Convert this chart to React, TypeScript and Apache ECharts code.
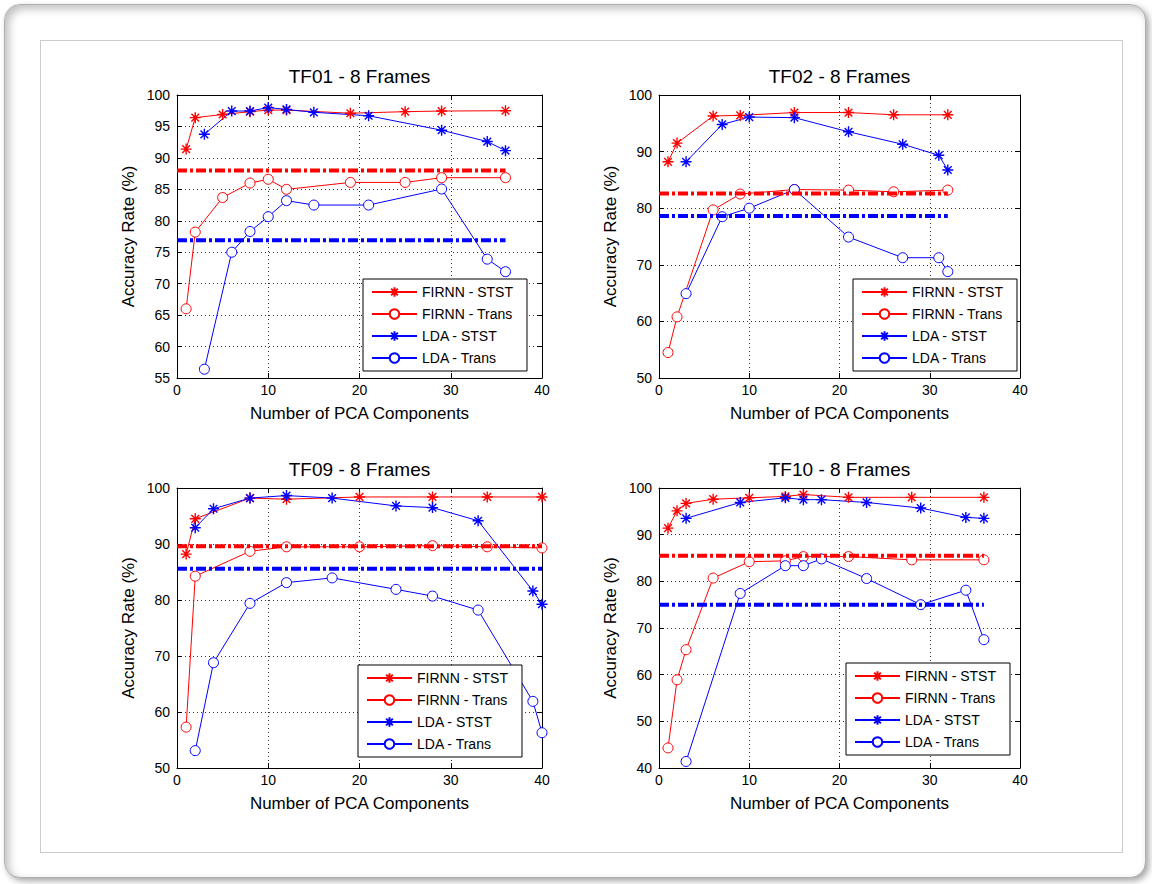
import React, { useEffect, useRef } from "react";
import * as echarts from "echarts";

// ---------- data ----------
const TITLES = ["TF01 - 8 Frames", "TF02 - 8 Frames", "TF09 - 8 Frames", "TF10 - 8 Frames"];
const SERIES_NAMES = ["FIRNN - STST", "FIRNN - Trans", "LDA - STST", "LDA - Trans"];
const X_NAME = "Number of PCA Components";
const Y_NAME = "Accuracy Rate (%)";

// TF01
const TF01_FIRNN_X = [1, 2, 5, 8, 10, 12, 19, 25, 29, 36];
const TF01_FIRNN_STST = [91.4, 96.4, 96.9, 97.35, 97.6, 97.6, 97.1, 97.35, 97.45, 97.5];
const TF01_FIRNN_TRANS = [66.0, 78.2, 83.7, 86.0, 86.6, 85.0, 86.1, 86.1, 86.85, 86.85];
const TF01_LDA_X = [3, 6, 8, 10, 12, 15, 21, 29, 34, 36];
const TF01_LDA_STST = [93.75, 97.45, 97.45, 98.0, 97.7, 97.25, 96.7, 94.4, 92.6, 91.15];
const TF01_LDA_TRANS = [56.4, 75.0, 78.3, 80.65, 83.2, 82.5, 82.5, 85.05, 73.9, 71.9];
const TF01_AVG = [88.0, 76.9];
const TF01_AVG_END = 36;

// TF02
const TF02_FIRNN_X = [1, 2, 6, 9, 15, 21, 26, 32];
const TF02_FIRNN_STST = [88.2, 91.5, 96.3, 96.4, 96.9, 96.9, 96.5, 96.5];
const TF02_FIRNN_TRANS = [54.5, 60.8, 79.7, 82.5, 83.3, 83.2, 82.9, 83.2];
const TF02_LDA_X = [3, 7, 10, 15, 21, 27, 31, 32];
const TF02_LDA_STST = [88.2, 94.8, 96.1, 96.0, 93.5, 91.3, 89.35, 86.75];
const TF02_LDA_TRANS = [64.9, 78.5, 80.0, 83.3, 74.9, 71.25, 71.25, 68.8];
const TF02_AVG = [82.6, 78.6];
const TF02_AVG_END = 32;

// TF09
const TF09_FIRNN_X = [1, 2, 8, 12, 20, 28, 34, 40];
const TF09_FIRNN_STST = [88.2, 94.5, 98.2, 98.0, 98.4, 98.4, 98.4, 98.4];
const TF09_FIRNN_TRANS = [57.3, 84.25, 88.7, 89.5, 89.5, 89.7, 89.5, 89.3];
const TF09_LDA_X = [2, 4, 8, 12, 17, 24, 28, 33, 39, 40];
const TF09_LDA_STST = [92.9, 96.3, 98.2, 98.65, 98.2, 96.8, 96.5, 94.15, 81.6, 79.25];
const TF09_LDA_TRANS = [53.1, 68.8, 79.4, 83.1, 83.95, 81.9, 80.7, 78.2, 61.9, 56.3];
const TF09_AVG = [89.6, 85.6];
const TF09_AVG_END = 40;

// TF10
const TF10_FIRNN_X = [1, 2, 3, 6, 10, 14, 16, 21, 28, 36];
const TF10_FIRNN_STST = [91.4, 95.1, 96.7, 97.6, 97.9, 98.2, 98.6, 98.0, 98.0, 98.0];
const TF10_FIRNN_TRANS = [44.3, 58.9, 65.35, 80.7, 84.2, 84.4, 85.3, 85.3, 84.6, 84.6];
const TF10_LDA_X = [3, 9, 14, 16, 18, 23, 29, 34, 36];
const TF10_LDA_STST = [93.5, 96.9, 97.9, 97.5, 97.5, 96.9, 95.7, 93.7, 93.5];
const TF10_LDA_TRANS = [41.4, 77.4, 83.35, 83.35, 84.8, 80.6, 75.0, 78.1, 67.5];
const TF10_AVG = [85.5, 75.0];
const TF10_AVG_END = 36;

const X_MIN = 0;
const X_MAX = 40;
const X_STEP = 10;
const Y_RANGES = [
  [55, 100, 5],
  [50, 100, 10],
  [50, 100, 10],
  [40, 100, 10],
];

// ---------- layout / style ----------
const FONT = '"Liberation Sans", Arial, Helvetica, sans-serif';
const RED = "#ff0000";
const BLUE = "#0000ff";
const STAR = "path://M5,0L5,10M0,5L10,5M1.5,1.5L8.5,8.5M1.5,8.5L8.5,1.5";

const GRIDS = [
  { left: 177, top: 95, width: 365, height: 283 },
  { left: 659, top: 95, width: 361, height: 283 },
  { left: 177, top: 488, width: 365, height: 280 },
  { left: 659, top: 488, width: 361, height: 280 },
];
const LEGEND_POS = [
  { left: 363, top: 279 },
  { left: 853, top: 279 },
  { left: 358, top: 665 },
  { left: 846, top: 663 },
];

const PANELS = [
  { fx: TF01_FIRNN_X, fs: TF01_FIRNN_STST, ft: TF01_FIRNN_TRANS, lx: TF01_LDA_X, ls: TF01_LDA_STST, lt: TF01_LDA_TRANS, avg: TF01_AVG, avgEnd: TF01_AVG_END },
  { fx: TF02_FIRNN_X, fs: TF02_FIRNN_STST, ft: TF02_FIRNN_TRANS, lx: TF02_LDA_X, ls: TF02_LDA_STST, lt: TF02_LDA_TRANS, avg: TF02_AVG, avgEnd: TF02_AVG_END },
  { fx: TF09_FIRNN_X, fs: TF09_FIRNN_STST, ft: TF09_FIRNN_TRANS, lx: TF09_LDA_X, ls: TF09_LDA_STST, lt: TF09_LDA_TRANS, avg: TF09_AVG, avgEnd: TF09_AVG_END },
  { fx: TF10_FIRNN_X, fs: TF10_FIRNN_STST, ft: TF10_FIRNN_TRANS, lx: TF10_LDA_X, ls: TF10_LDA_STST, lt: TF10_LDA_TRANS, avg: TF10_AVG, avgEnd: TF10_AVG_END },
];

const zip = (xs: number[], ys: number[]) => xs.map((x, i) => [x, ys[i]]);

function buildOption() {
  const xAxis: any[] = [];
  const yAxis: any[] = [];
  const series: any[] = [];
  const legend: any[] = [];
  const graphic: any[] = [];

  const axisLine = { show: true, onZero: false, lineStyle: { color: "#000", width: 1 } };
  const axisTick = { show: true, inside: true, length: 5, lineStyle: { color: "#000", width: 1 } };
  const splitLine = { show: true, lineStyle: { color: "#333", width: 1, type: [1, 3] } };
  const label = { color: "#000", fontSize: 14, fontFamily: FONT };
  const nameStyle = { color: "#000", fontSize: 17, fontFamily: FONT };

  GRIDS.forEach((g, gi) => {
    const [ymin, ymax, ystep] = Y_RANGES[gi];
    xAxis.push({
      type: "value", gridIndex: gi, position: "bottom", min: X_MIN, max: X_MAX, interval: X_STEP,
      axisLine, axisTick, splitLine, axisLabel: { ...label, margin: 5 },
      name: X_NAME, nameLocation: "middle", nameGap: 27, nameTextStyle: nameStyle,
    });
    xAxis.push({
      type: "value", gridIndex: gi, position: "top", min: X_MIN, max: X_MAX, interval: X_STEP,
      axisLine, axisTick, splitLine: { show: false }, axisLabel: { show: false },
    });
    yAxis.push({
      type: "value", gridIndex: gi, position: "left", min: ymin, max: ymax, interval: ystep,
      axisLine, axisTick, splitLine, axisLabel: { ...label, margin: 7 },
      name: Y_NAME, nameLocation: "middle", nameGap: 40, nameTextStyle: nameStyle,
    });
    yAxis.push({
      type: "value", gridIndex: gi, position: "right", min: ymin, max: ymax, interval: ystep,
      axisLine, axisTick, splitLine: { show: false }, axisLabel: { show: false },
    });

    const p = PANELS[gi];
    const xi = gi * 2;
    const yi = gi * 2;
    const mk = (name: string, xs: number[], ys: number[], color: string, star: boolean) => ({
      type: "line", name, xAxisIndex: xi, yAxisIndex: yi, data: zip(xs, ys),
      symbol: star ? STAR : "circle", symbolSize: star ? 11 : 10, showAllSymbol: true,
      lineStyle: { color, width: 1 },
      itemStyle: star
        ? { color, borderColor: color, borderWidth: 1.4 }
        : { color: "#fff", borderColor: color, borderWidth: 1 },
      z: 3,
    });
    series.push(mk(SERIES_NAMES[0], p.fx, p.fs, RED, true));
    series.push(mk(SERIES_NAMES[1], p.fx, p.ft, RED, false));
    series.push(mk(SERIES_NAMES[2], p.lx, p.ls, BLUE, true));
    series.push(mk(SERIES_NAMES[3], p.lx, p.lt, BLUE, false));
    [RED, BLUE].forEach((c, k) => {
      series.push({
        type: "line", name: "avg-" + gi + "-" + k, xAxisIndex: xi, yAxisIndex: yi,
        data: [[X_MIN, p.avg[k]], [p.avgEnd, p.avg[k]]],
        symbol: "none", silent: true,
        lineStyle: { color: c, width: 4, type: [10, 3, 3, 3], cap: "butt" },
        z: 4,
      });
    });

    legend.push({
      ...LEGEND_POS[gi], orient: "vertical", data: SERIES_NAMES, selectedMode: false,
      itemWidth: 45, itemHeight: 12, itemGap: 8, padding: [6, 14, 6, 8],
      borderColor: "#000", borderWidth: 1, backgroundColor: "#fff",
      textStyle: { color: "#000", fontSize: 14, fontFamily: FONT },
      z: 10,
    });

    graphic.push({
      type: "text", x: g.left + g.width / 2, y: g.top - 19,
      style: { text: TITLES[gi], fill: "#000", font: `19px ${FONT}`, textAlign: "center", textVerticalAlign: "middle" },
    });
  });

  return {
    animation: false,
    backgroundColor: "transparent",
    grid: GRIDS.map((g) => ({ ...g, containLabel: false })),
    xAxis, yAxis, series, legend, graphic,
  };
}

export default function App() {
  const ref = useRef<HTMLDivElement>(null);
  useEffect(() => {
    if (!ref.current) return;
    const chart = echarts.init(ref.current, undefined, { renderer: "svg" });
    chart.setOption(buildOption() as any);
    return () => chart.dispose();
  }, []);
  return (
    <div style={{ position: "absolute", left: 0, top: 0, width: 1152, height: 884, background: "#fff" }}>
      <div style={{ position: "absolute", left: 4, top: 4, width: 1140, height: 872, borderRadius: 16, border: "1px solid #b0b0b0", boxShadow: "inset 4px 4px 8px rgba(0,0,0,0.25), 3px 3px 6px rgba(0,0,0,0.35)", background: "#fff" }} />
      <div style={{ position: "absolute", left: 40, top: 40, width: 1081, height: 811, border: "1px solid #cccccc", background: "#fff" }} />
      <div ref={ref} style={{ position: "absolute", left: 0, top: 0, width: 1152, height: 884 }} />
    </div>
  );
}
